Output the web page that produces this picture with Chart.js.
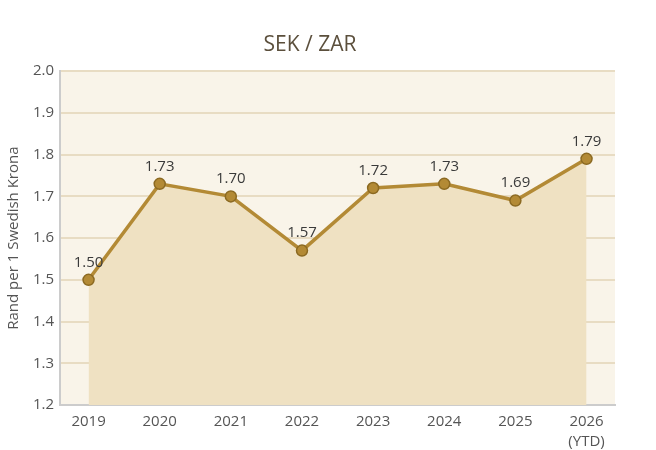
<!DOCTYPE html>
<html>
<head>
<meta charset="utf-8">
<script src="https://cdn.jsdelivr.net/npm/chart.js@4"></script>
<style>
  html, body { margin: 0; padding: 0; background: #fff; }
  #wrap { width: 656px; height: 450px; }
</style>
</head>
<body>
<div id="wrap"><canvas id="chart" width="656" height="450"></canvas></div>
<script>
const years = ["2019", "2020", "2021", "2022", "2023", "2024", "2025", ["2026", "(YTD)"]];
const rates = [1.50, 1.73, 1.70, 1.57, 1.72, 1.73, 1.69, 1.79];
const yTicks = [1.2, 1.3, 1.4, 1.5, 1.6, 1.7, 1.8, 1.9, 2.0];

const FONT = "'Open Sans', 'DejaVu Sans', sans-serif";

// cream plot background
const plotBg = {
  id: "plotBg",
  beforeDraw(chart) {
    const { ctx, chartArea: a } = chart;
    ctx.save();
    ctx.fillStyle = "#f9f4e9";
    ctx.fillRect(a.left, a.top, a.right - a.left, a.bottom - a.top);
    ctx.restore();
  }
};

// value labels above the points
const valueLabels = {
  id: "valueLabels",
  afterDatasetsDraw(chart) {
    const { ctx } = chart;
    const meta = chart.getDatasetMeta(0);
    ctx.save();
    ctx.font = "15px " + FONT;
    ctx.fillStyle = "#3a3a3a";
    ctx.textAlign = "center";
    ctx.textBaseline = "bottom";
    meta.data.forEach((pt, i) => {
      ctx.fillText(rates[i].toFixed(2), pt.x, pt.y - 10);
    });
    ctx.restore();
  }
};

new Chart(document.getElementById("chart"), {
  type: "line",
  data: {
    datasets: [{
      data: rates.map((v, i) => ({ x: i, y: v })),
      borderColor: "#b38a35",
      borderWidth: 3.5,
      backgroundColor: "#efe1c2",
      fill: "start",
      tension: 0,
      pointRadius: 5.5,
      pointBackgroundColor: "#b38a35",
      pointBorderColor: "#8c6a22",
      pointBorderWidth: 1.5
    }]
  },
  options: {
    responsive: false,
    animation: false,
    layout: { padding: { top: 6, right: 41, bottom: 0, left: 5 } },
    plugins: {
      legend: { display: false },
      tooltip: { enabled: false },
      title: {
        display: true,
        text: "SEK / ZAR",
        color: "#5b4f3c",
        font: { family: FONT, size: 21, weight: "normal" },
        padding: { top: 26, bottom: 14 }
      }
    },
    scales: {
      x: {
        type: "linear",
        min: -0.4,
        max: 7.4,
        afterBuildTicks(scale) {
          scale.ticks = years.map((_, i) => ({ value: i }));
        },
        ticks: {
          autoSkip: false,
          maxRotation: 0,
          color: "#555",
          font: { family: FONT, size: 15, lineHeight: 1.3 },
          padding: -1,
          callback: (v) => years[v]
        },
        grid: { display: false },
        border: { display: true, color: "#cccccc", width: 2 }
      },
      y: {
        min: 1.2,
        max: 2.0,
        afterBuildTicks(scale) {
          scale.ticks = yTicks.map(v => ({ value: v }));
        },
        ticks: {
          color: "#555",
          font: { family: FONT, size: 15 },
          padding: 6,
          callback: (v) => v.toFixed(1)
        },
        grid: { color: "#e8dcc3", lineWidth: 2, drawTicks: false },
        border: { display: true, color: "#cccccc", width: 2 },
        title: {
          display: true,
          text: "Rand per 1 Swedish Krona",
          color: "#555",
          font: { family: FONT, size: 15 },
          padding: { top: 0, bottom: 4 }
        }
      }
    }
  },
  plugins: [plotBg, valueLabels]
});
</script>
</body>
</html>
